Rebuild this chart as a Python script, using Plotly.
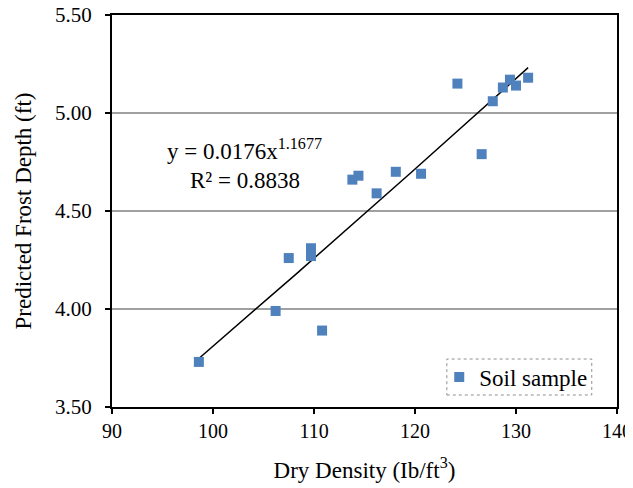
import numpy as np
import plotly.graph_objects as go

# Data
dry_density = [98.6, 106.2, 107.5, 109.7, 109.7, 110.8, 113.8, 114.4, 116.2,
               118.1, 120.6, 124.2, 126.6, 127.7, 128.7, 129.4, 130.0, 131.2]
frost_depth = [3.73, 3.99, 4.26, 4.31, 4.27, 3.89, 4.66, 4.68, 4.59,
               4.70, 4.69, 5.15, 4.79, 5.06, 5.13, 5.17, 5.14, 5.18]

# Power trendline shown on the chart: y = 0.0176 x^1.1677
coef_a = 0.0176
coef_b = 1.1677
r_squared = 0.8838

x_ticks = [90, 100, 110, 120, 130, 140]
y_ticks = [3.5, 4.0, 4.5, 5.0, 5.5]

series_name = "Soil sample"
x_title = "Dry Density (Ib/ft<sup>3</sup>)"
y_title = "Predicted Frost Depth (ft)"

FONT = "Liberation Serif, Times New Roman, serif"
BLUE = "#4F81BD"

xt = np.linspace(min(dry_density), max(dry_density), 100)
yt = coef_a * xt ** coef_b

fig = go.Figure()
fig.add_trace(go.Scatter(
    x=xt, y=yt, mode="lines", line=dict(color="black", width=1.5),
    showlegend=False, hoverinfo="skip"))
fig.add_trace(go.Scatter(
    x=dry_density, y=frost_depth, mode="markers", name=series_name,
    marker=dict(symbol="square", size=10, color=BLUE)))

# page is drawn with an 8px body offset, so the figure is 8px smaller
fig.update_layout(
    width=625, height=480,
    margin=dict(l=104, r=16, t=7, b=81, autoexpand=False),
    paper_bgcolor="white", plot_bgcolor="white",
    font=dict(family=FONT, size=21, color="black"),
    showlegend=True,
    legend=dict(x=0.648, y=0.0765, xanchor="left", yanchor="middle",
                bgcolor="rgba(0,0,0,0)", borderwidth=0,
                font=dict(family=FONT, size=23, color="black")),
    xaxis=dict(range=[90, 140], tickvals=x_ticks, ticktext=[str(v) for v in x_ticks],
               tickfont=dict(family=FONT, size=20, color="black"),
               showgrid=False, zeroline=False, showline=True, linecolor="black",
               linewidth=2, mirror=True, ticks="outside", ticklen=5, tickwidth=1.5,
               tickcolor="black", automargin=False, ticklabelstandoff=0,
               ticklabeloverflow="allow",
               title=dict(text=x_title, font=dict(family=FONT, size=23), standoff=21)),
    yaxis=dict(range=[3.5, 5.5], tickvals=y_ticks, ticktext=[f"{v:.2f}" for v in y_ticks],
               tickfont=dict(family=FONT, size=21, color="black"),
               showgrid=True, gridcolor="#a0a0a0", gridwidth=1.5, zeroline=False,
               showline=True, linecolor="black", linewidth=2, mirror=True,
               ticks="outside", ticklen=5, tickwidth=1.5, tickcolor="black",
               automargin=False, ticklabelstandoff=9, ticklabeloverflow="allow",
               title=dict(text=y_title, font=dict(family=FONT, size=23), standoff=17)),
)

fig.add_shape(type="rect", xref="paper", yref="paper",
              x0=0.663, x1=0.950, y0=0.0306, y1=0.1224,
              line=dict(color="#909090", width=1, dash="dot"))

fig.add_annotation(xref="paper", yref="paper", x=0.263, y=0.658,
                   xanchor="center", yanchor="middle",
                   text=f"y = {coef_a}x<sup>{coef_b}</sup>", showarrow=False,
                   font=dict(family=FONT, size=23, color="black"))
fig.add_annotation(xref="paper", yref="paper", x=0.263, y=0.579,
                   xanchor="center", yanchor="middle",
                   text=f"R² = {r_squared}", showarrow=False,
                   font=dict(family=FONT, size=23, color="black"))

fig.write_html("out.html")
